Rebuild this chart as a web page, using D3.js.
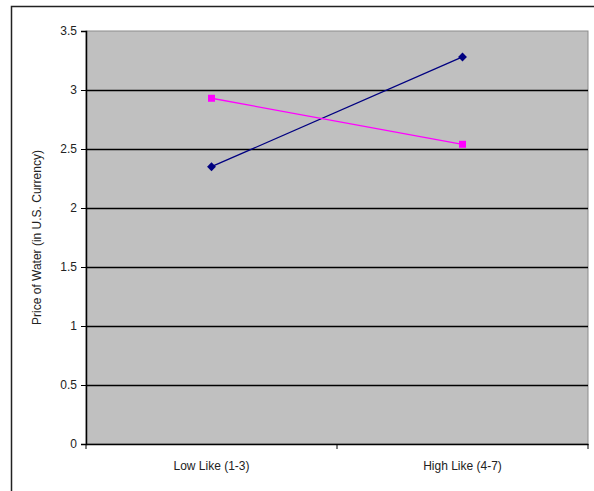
<!DOCTYPE html>
<html>
<head>
<meta charset="utf-8">
<script src="https://cdn.jsdelivr.net/npm/d3@7/dist/d3.min.js"></script>
<style>
body { margin: 0; background: #fff; }
text { font-family: "Liberation Sans", Arial, sans-serif; }
</style>
</head>
<body>
<script>
var categories = ["Low Like (1-3)", "High Like (4-7)"];
var seriesBlue = [2.35, 3.28];
var seriesPink = [2.93, 2.54];
var yTicks = [0, 0.5, 1, 1.5, 2, 2.5, 3, 3.5];

var W = 594, H = 491;
// note: "top" is reserved on window, so use plot* names
var plotLeft = 86, plotRight = 588, plotTop = 31, plotBottom = 444;

var svg = d3.select("body").append("svg")
    .attr("width", W)
    .attr("height", H);

// outer chart frame (right/bottom edges fall outside the picture)
svg.append("rect")
    .attr("x", 11.5).attr("y", 6.5)
    .attr("width", 700).attr("height", 700)
    .attr("fill", "#fff")
    .attr("stroke", "#222")
    .attr("stroke-width", 1.5);

var x = d3.scaleBand()
    .domain(categories)
    .range([plotLeft, plotRight]);

var y = d3.scaleLinear()
    .domain([0, 3.5])
    .range([plotBottom, plotTop]);

// plot area
svg.append("rect")
    .attr("x", plotLeft).attr("y", plotTop)
    .attr("width", plotRight - plotLeft).attr("height", plotBottom - plotTop)
    .attr("fill", "#c0c0c0")
    .attr("stroke", "#8c8c8c")
    .attr("stroke-width", 1);

// gridlines
svg.append("g").selectAll("line")
    .data(yTicks.filter(function(d){ return d > 0 && d < 3.5; }))
    .enter().append("line")
    .attr("x1", plotLeft).attr("x2", plotRight)
    .attr("y1", function(d){ return Math.round(y(d)) + 0.5; })
    .attr("y2", function(d){ return Math.round(y(d)) + 0.5; })
    .attr("stroke", "#000")
    .attr("stroke-width", 1.5);

// y axis
var yAxis = svg.append("g")
    .attr("transform", "translate(" + plotLeft + ",0)")
    .call(d3.axisLeft(y).tickValues(yTicks).tickSize(5).tickPadding(4)
        .tickFormat(function(d){ return String(d); }));
yAxis.select(".domain").attr("stroke", "#000").attr("stroke-width", 1.5);
yAxis.selectAll(".tick line").attr("stroke", "#000");
yAxis.selectAll("text")
    .attr("font-size", 12)
    .attr("fill", "#222")
    .style("font-family", "Liberation Sans, Arial, sans-serif");

// x axis
var xAxis = svg.append("g")
    .attr("transform", "translate(0," + plotBottom + ")")
    .call(d3.axisBottom(x).tickSize(0).tickPadding(17));
xAxis.select(".domain").attr("stroke", "#000").attr("stroke-width", 1.5);
xAxis.selectAll("text")
    .attr("font-size", 12)
    .attr("fill", "#222")
    .style("font-family", "Liberation Sans, Arial, sans-serif");

// category boundary ticks
var bounds = [plotLeft].concat(categories.map(function(c){ return x(c) + x.bandwidth(); }));
xAxis.selectAll(".bound")
    .data(bounds)
    .enter().append("line")
    .attr("class", "bound")
    .attr("x1", function(d){ return d; })
    .attr("x2", function(d){ return d; })
    .attr("y1", 0).attr("y2", 5)
    .attr("stroke", "#000");

// y axis label
svg.append("text")
    .attr("transform", "translate(41," + ((plotTop + plotBottom) / 2) + ") rotate(-90)")
    .attr("text-anchor", "middle")
    .attr("font-size", 12)
    .attr("fill", "#222")
    .text("Price of Water (in U.S. Currency)");

var cx = function(d, i){ return x(categories[i]) + x.bandwidth() / 2; };

var line = d3.line()
    .x(function(d, i){ return cx(d, i); })
    .y(function(d){ return y(d); });

svg.append("path")
    .datum(seriesBlue)
    .attr("d", line)
    .attr("fill", "none")
    .attr("stroke", "#000080")
    .attr("stroke-width", 1.3);

svg.append("path")
    .datum(seriesPink)
    .attr("d", line)
    .attr("fill", "none")
    .attr("stroke", "#ff00ff")
    .attr("stroke-width", 1.3);

svg.append("g").selectAll("path")
    .data(seriesBlue)
    .enter().append("path")
    .attr("d", d3.symbol().type(d3.symbolDiamond2).size(50))
    .attr("transform", function(d, i){ return "translate(" + cx(d, i) + "," + y(d) + ")"; })
    .attr("fill", "#000080");

svg.append("g").selectAll("rect")
    .data(seriesPink)
    .enter().append("rect")
    .attr("x", function(d, i){ return cx(d, i) - 3.5; })
    .attr("y", function(d){ return y(d) - 3.5; })
    .attr("width", 7).attr("height", 7)
    .attr("fill", "#ff00ff");
</script>
</body>
</html>
